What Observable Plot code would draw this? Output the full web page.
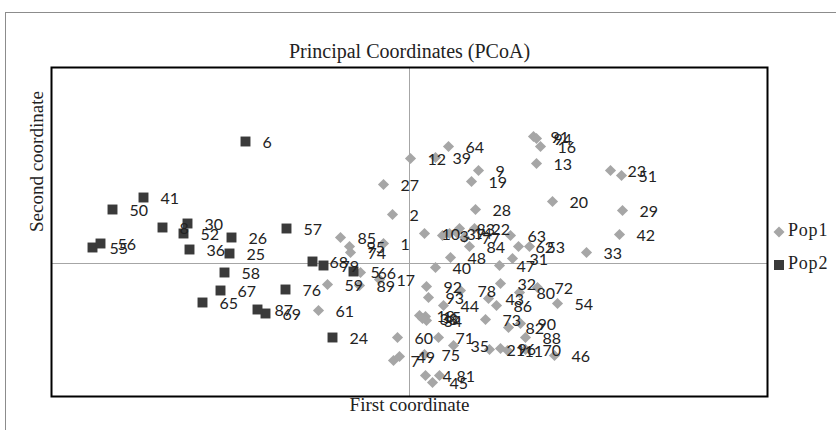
<!DOCTYPE html>
<html><head><meta charset="utf-8">
<script src="https://cdn.jsdelivr.net/npm/d3@7"></script>
<script src="https://cdn.jsdelivr.net/npm/@observablehq/plot@0.6"></script>
<style>
body{margin:0;background:#fff;}
#wrap{position:relative;width:836px;height:430px;overflow:hidden;background:#fff;}
#border{position:absolute;left:5px;top:12px;width:1000px;height:1000px;border:1px solid #8c8c8c;box-sizing:border-box;}
#chart{position:absolute;left:0;top:0;}
#chart svg{background:transparent !important;}
.leg{position:absolute;left:772px;font-family:"Liberation Serif",serif;font-size:18px;color:#222;letter-spacing:0.8px;}
.leg svg{vertical-align:middle;margin-right:2px;}
</style></head><body>
<div id="wrap"><div id="border"></div><div id="chart"></div>
<div class="leg" style="top:220px"><svg width="14" height="14"><path d="M7,1.5L12.5,7L7,12.5L1.5,7Z" fill="#a6a6a6"/></svg>Pop1</div>
<div class="leg" style="top:253px"><svg width="14" height="14"><rect x="2" y="2" width="10" height="10" fill="#3a3a3a"/></svg>Pop2</div>
</div>
<script>
// Pop1 (diamonds)
const pop1Labels = [1,2,3,4,7,9,10,11,12,13,14,15,16,17,18,19,20,21,22,23,27,28,29,31,32,33,34,35,37,38,39,40,42,43,44,45,46,47,48,49,51,53,54,59,60,61,62,63,64,66,70,71,72,73,74,75,77,78,80,81,82,83,84,85,86,88,89,90,91,92,93,94,95,96];
const pop1X = [-0.026,-0.017,0.033,0.016,-0.016,0.069,0.015,0.098,0.001,0.127,0.047,0.016,0.131,-0.030,0.010,0.062,0.143,0.080,0.065,0.201,-0.026,0.066,0.213,0.103,0.091,0.177,0.017,0.044,0.040,0.013,0.026,0.026,0.210,0.079,0.034,0.023,0.145,0.090,0.041,-0.010,0.212,0.120,0.148,-0.082,-0.012,-0.091,0.109,0.101,0.039,-0.049,0.116,0.029,0.128,0.076,-0.059,0.015,0.055,0.051,0.110,0.030,0.099,0.050,0.060,-0.069,0.087,0.116,-0.050,0.111,0.124,0.017,0.019,0.127,-0.060,0.091];
const pop1Y = [0.020,0.049,0.028,-0.112,-0.097,0.093,0.030,-0.087,0.105,0.100,0.031,-0.053,0.117,-0.016,-0.052,0.082,0.062,-0.086,0.035,0.093,0.079,0.054,0.053,0.005,-0.020,0.011,-0.057,-0.082,0.030,-0.055,0.106,-0.004,0.029,-0.035,-0.042,-0.119,-0.092,-0.002,0.006,-0.093,0.088,0.017,-0.040,-0.021,-0.074,-0.047,0.017,0.028,0.117,-0.009,-0.086,-0.074,-0.024,-0.056,0.011,-0.091,0.026,-0.027,-0.029,-0.112,-0.064,0.035,0.017,0.026,-0.042,-0.074,-0.022,-0.060,0.127,-0.023,-0.034,0.125,0.017,-0.085];
// Pop2 (squares)
const pop2Labels = [5,6,8,24,25,26,30,36,41,50,52,55,56,57,58,65,67,68,69,76,79,87];
const pop2X = [-0.056,-0.164,-0.247,-0.077,-0.180,-0.178,-0.222,-0.220,-0.266,-0.297,-0.226,-0.317,-0.309,-0.123,-0.185,-0.207,-0.189,-0.097,-0.144,-0.124,-0.086,-0.152];
const pop2Y = [-0.008,0.122,0.036,-0.074,0.010,0.026,0.040,0.014,0.066,0.054,0.030,0.016,0.020,0.035,-0.009,-0.039,-0.027,0.002,-0.050,-0.026,-0.002,-0.046];

const title = "Principal Coordinates (PCoA)";
const xTitle = "First coordinate";
const yTitle = "Second coordinate";

const pop1 = pop1Labels.map((l,i)=>({label:String(l), x:pop1X[i], y:pop1Y[i]}));
const pop2 = pop2Labels.map((l,i)=>({label:String(l), x:pop2X[i], y:pop2Y[i]}));

const labelFont = {fontFamily:"Lato, 'Open Sans', sans-serif", fontSize:16, fill:"#222", textAnchor:"start", dx:17, dy:1};
const serif = "'Liberation Serif', serif";

const chart = Plot.plot({
  width: 836, height: 430,
  marginLeft: 51, marginRight: 69, marginTop: 67, marginBottom: 34,
  style: {background: "transparent"},
  x: {domain: [-0.358, 0.358], axis: null},
  y: {domain: [-0.133, 0.196], axis: null},
  marks: [
    Plot.ruleX([0], {stroke: "#a6a6a6", strokeWidth: 1}),
    Plot.ruleY([0], {stroke: "#a6a6a6", strokeWidth: 1}),
    Plot.dot(pop1, {x: "x", y: "y", symbol: "diamond2", r: 5, fill: "#a6a6a6", stroke: "none"}),
    Plot.dot(pop2, {x: "x", y: "y", symbol: "square", r: 5.6, fill: "#3a3a3a", stroke: "none"}),
    Plot.text(pop1, {x: "x", y: "y", text: "label", ...labelFont}),
    Plot.text(pop2, {x: "x", y: "y", text: "label", ...labelFont}),
    Plot.frame({stroke: "#000", strokeWidth: 2}),
    Plot.text([title], {frameAnchor: "top", dy: -24, fontFamily: serif, fontSize: 20, fill: "#222"}),
    Plot.text([xTitle], {frameAnchor: "bottom", dy: 14, fontFamily: serif, fontSize: 19, fill: "#222"}),
    Plot.text([yTitle], {frameAnchor: "left", dx: -15, rotate: -90, fontFamily: serif, fontSize: 19, fill: "#222"})
  ]
});
document.getElementById("chart").appendChild(chart);
</script>
</body></html>
